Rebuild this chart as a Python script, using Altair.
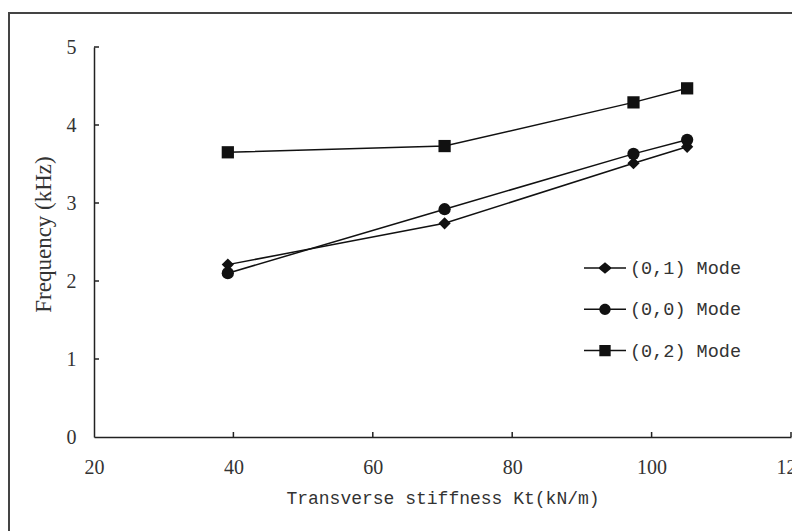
import altair as alt
import pandas as pd

stiffness = [39.2, 70.3, 97.4, 105.1]
mode01 = [2.21, 2.74, 3.51, 3.72]
mode00 = [2.10, 2.92, 3.63, 3.81]
mode02 = [3.65, 3.73, 4.29, 4.47]
series_names = ["(0,1) Mode", "(0,0) Mode", "(0,2) Mode"]
marker_shapes = ["diamond", "circle", "square"]
x_ticks = [20, 40, 60, 80, 100, 120]
y_ticks = [0, 1, 2, 3, 4, 5]

rows = []
for name, vals in zip(series_names, [mode01, mode00, mode02]):
    for k, v in zip(stiffness, vals):
        rows.append({"Kt": k, "Freq": v, "Mode": name})
df = pd.DataFrame(rows)

W, H = 697, 390
xscale = alt.Scale(domain=[20, 120], nice=False, zero=False)
yscale = alt.Scale(domain=[0, 5], nice=False)

lab_font = "Liberation Serif"
mono = "Liberation Mono"

xaxis = alt.Axis(values=x_ticks, ticks=False, labelPadding=20, labelFont=lab_font,
                 labelFontSize=20, labelColor="#333", title="Transverse stiffness Kt(kN/m)",
                 titleFont=mono, titleFontSize=18, titleFontWeight="normal",
                 titleColor="#333", titlePadding=12, domainColor="#222",
                 domainWidth=1.5, grid=False, labelFlush=False, format="d")
yaxis = alt.Axis(values=y_ticks, ticks=False, labelPadding=18, labelFont=lab_font,
                 labelFontSize=20, labelColor="#333", title="Frequency (kHz)",
                 titleFont=lab_font, titleFontSize=23, titleFontWeight="normal",
                 titleColor="#333", titlePadding=11, titleY=187, domainColor="#222",
                 domainWidth=1.5, grid=False, format="d")

base = alt.Chart(df)

lines = base.mark_line(color="#111", strokeWidth=1.5).encode(
    x=alt.X("Kt:Q", scale=xscale, axis=xaxis),
    y=alt.Y("Freq:Q", scale=yscale, axis=yaxis),
    detail="Mode:N",
)

point_layers = []
for name, shp in zip(series_names, marker_shapes):
    point_layers.append(
        base.transform_filter(alt.datum.Mode == name)
        .mark_point(filled=True, color="#111", opacity=1, size=150, shape=shp)
        .encode(x=alt.X("Kt:Q", scale=xscale), y=alt.Y("Freq:Q", scale=yscale))
    )

bar = "M-1,-0.036H1V0.036H-1Z"
leg_paths = [
    bar + "M0,-0.27L0.33,0L0,0.27L-0.33,0Z",
    bar + "M0.27,0A0.27,0.27 0 1,1 -0.27,0A0.27,0.27 0 1,1 0.27,0Z",
    bar + "M-0.27,-0.27H0.27V0.27H-0.27Z",
]
legend_layer = base.mark_point(filled=True, color="#111", opacity=0, size=1764).encode(
    x=alt.X("Kt:Q", scale=xscale),
    y=alt.Y("Freq:Q", scale=yscale),
    shape=alt.Shape("Mode:N", scale=alt.Scale(domain=series_names, range=leg_paths),
                    legend=alt.Legend(title=None, orient="none", legendX=490, legendY=200,
                                      symbolSize=1764, symbolOpacity=1,
                                      symbolFillColor="#111", symbolStrokeColor="#111",
                                      symbolStrokeWidth=0, labelFont=mono,
                                      labelFontSize=18.5, labelColor="#333",
                                      labelOffset=4, rowPadding=10.3)),
)

xt = pd.DataFrame({"t": x_ticks[1:]})
yt = pd.DataFrame({"t": y_ticks[1:]})
xtick_layer = alt.Chart(xt).mark_rule(color="#222", strokeWidth=1.5).encode(
    x=alt.X("t:Q", scale=xscale), y=alt.value(H), y2=alt.value(H - 5))
ytick_layer = alt.Chart(yt).mark_rule(color="#222", strokeWidth=1.5).encode(
    y=alt.Y("t:Q", scale=yscale), x=alt.value(0), x2=alt.value(5))

frame = alt.Chart(alt.Data(values=[{}])).mark_rect(
    fill=None, stroke="#444", strokeWidth=2).encode(
    x=alt.value(-85), x2=alt.value(900), y=alt.value(-34), y2=alt.value(700))

chart = alt.layer(frame, lines, *point_layers, legend_layer, xtick_layer, ytick_layer).properties(
    width=W, height=H,
    autosize=alt.AutoSizeParams(type="none"),
    padding={"left": 86, "top": 39, "right": 1, "bottom": 94},
    background="white",
).configure_view(stroke=None)

chart.save("out.html", embed_options={"renderer": "svg", "actions": False})
